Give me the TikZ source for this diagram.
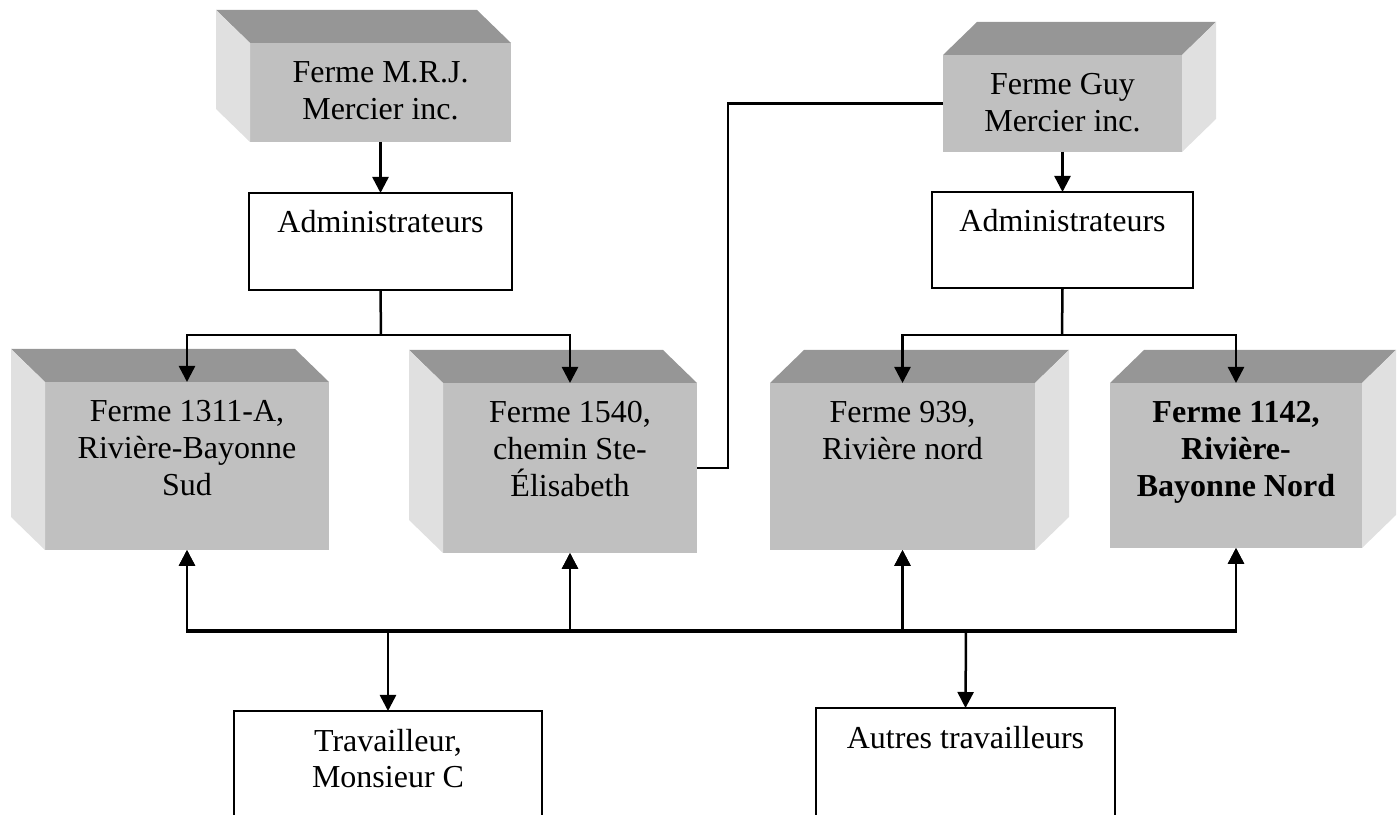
\documentclass[tikz,border=0pt]{standalone}
\usepackage{fontspec}
\setmainfont{Liberation Serif}
\usetikzlibrary{arrows.meta,positioning,calc}
\definecolor{facegray}{RGB}{192,192,192}
\definecolor{topgray}{RGB}{150,150,150}
\definecolor{sidegray}{RGB}{224,224,224}
\tikzset{
  % face avant, texte en haut
  panel/.style n args={2}{
    inner sep=0pt, outer sep=0pt,
    minimum width=#1, minimum height=#2,
    execute at begin node={\fontsize{32}{36.7}\selectfont
      \begin{minipage}[c][#2][t]{#1}\centering\rule{0pt}{40pt}},
    execute at end node={\end{minipage}}
  },
  % ferme (bloc gris)
  ferme/.style 2 args={panel={#1}{#2}, fill=facegray},
  % cadre blanc
  cadre/.style 2 args={panel={#1}{#2}, draw, line width=2.4pt, fill=white},
  % fleches
  arr/.style={-{Triangle[length=16pt,width=16pt]}, line width=2.5pt},
  lien/.style={line width=2.5pt},
}

\begin{document}
\begin{tikzpicture}[x=1pt, y=1pt]
  \useasboundingbox (0,0) rectangle (1400,814);

  % Entreprises
  \node[ferme={261pt}{99pt}, anchor=north west] (mrj) at (250,771) {Ferme M.R.J.\\ Mercier inc.};
  \node[ferme={239pt}{97pt}, anchor=north west] (guy) at (943,759) {Ferme Guy\\ Mercier inc.};

  % Administrateurs
  \node[cadre={263pt}{97pt}, anchor=north west] (adm1) at (249,621) {Administrateurs};
  \node[cadre={261pt}{96pt}, anchor=north west] (adm2) at (932,622) {Administrateurs};

  % Fermes
  \node[ferme={284pt}{168pt}, anchor=north west] (f1) at (45,432) {Ferme 1311-A,\\ Rivière-Bayonne\\ Sud};
  \node[ferme={254pt}{170pt}, anchor=north west] (f2) at (443,431) {Ferme 1540,\\ chemin Ste-\\ Élisabeth};
  \node[ferme={265pt}{167pt}, anchor=north west] (f3) at (770,431) {Ferme 939,\\ Rivière nord};
  \node[ferme={252pt}{165pt}, anchor=north west] (f4) at (1110,431) {\bfseries Ferme 1142,\\ Rivière-\\ Bayonne Nord};

  % Travailleurs
  \node[cadre={308pt}{120pt}, anchor=north west] (trav) at (234,103) {Travailleur,\\ Monsieur C};
  \node[cadre={299pt}{120pt}, anchor=north west] (autres) at (816,106) {Autres travailleurs};

  % Relief: ombre a gauche
  \foreach \n in {mrj,f1,f2}{
    \fill[topgray] (\n.north west) -- ++(-34,33) -- ([shift={(-34,33)}]\n.north east) -- (\n.north east) -- cycle;
    \fill[sidegray] (\n.north west) -- ++(-34,33) -- ([shift={(-34,33)}]\n.south west) -- (\n.south west) -- cycle;
  }
  % Relief: ombre a droite
  \foreach \n in {guy,f3,f4}{
    \fill[topgray] (\n.north west) -- ++(34,33) -- ([shift={(34,33)}]\n.north east) -- (\n.north east) -- cycle;
    \fill[sidegray] (\n.north east) -- ++(34,33) -- ([shift={(34,33)}]\n.south east) -- (\n.south east) -- cycle;
  }

  % Liens hierarchiques
  \coordinate (b1) at (381,479);
  \coordinate (b2) at (1062,479);
  \draw[arr] (mrj.south) -- (adm1.north);
  \draw[arr] (guy.south) -- (adm2.north);
  \draw[lien] (adm1.south) -- (b1);
  \draw[arr] (b1) -| (f1.north);
  \draw[arr] (b1) -| (f2.north);
  \draw[lien] (adm2.south) -- (b2);
  \draw[arr] (b2) -| (f3.north);
  \draw[arr] (b2) -| (f4.north);
  \draw[lien] (f2.east) -- ++(31,0) |- (guy.west);

  % Travailleurs vers fermes
  \coordinate (tj) at (388,182);
  \coordinate (aj) at (966,184);
  \foreach \f in {f1,f2,f3,f4}{
    \draw[arr] (tj) -| (\f.south);
    \draw[arr] (aj) -| (\f.south);
  }
  \draw[arr] (tj) -- (trav.north);
  \draw[arr] (aj) -- (autres.north);
\end{tikzpicture}
\end{document}
